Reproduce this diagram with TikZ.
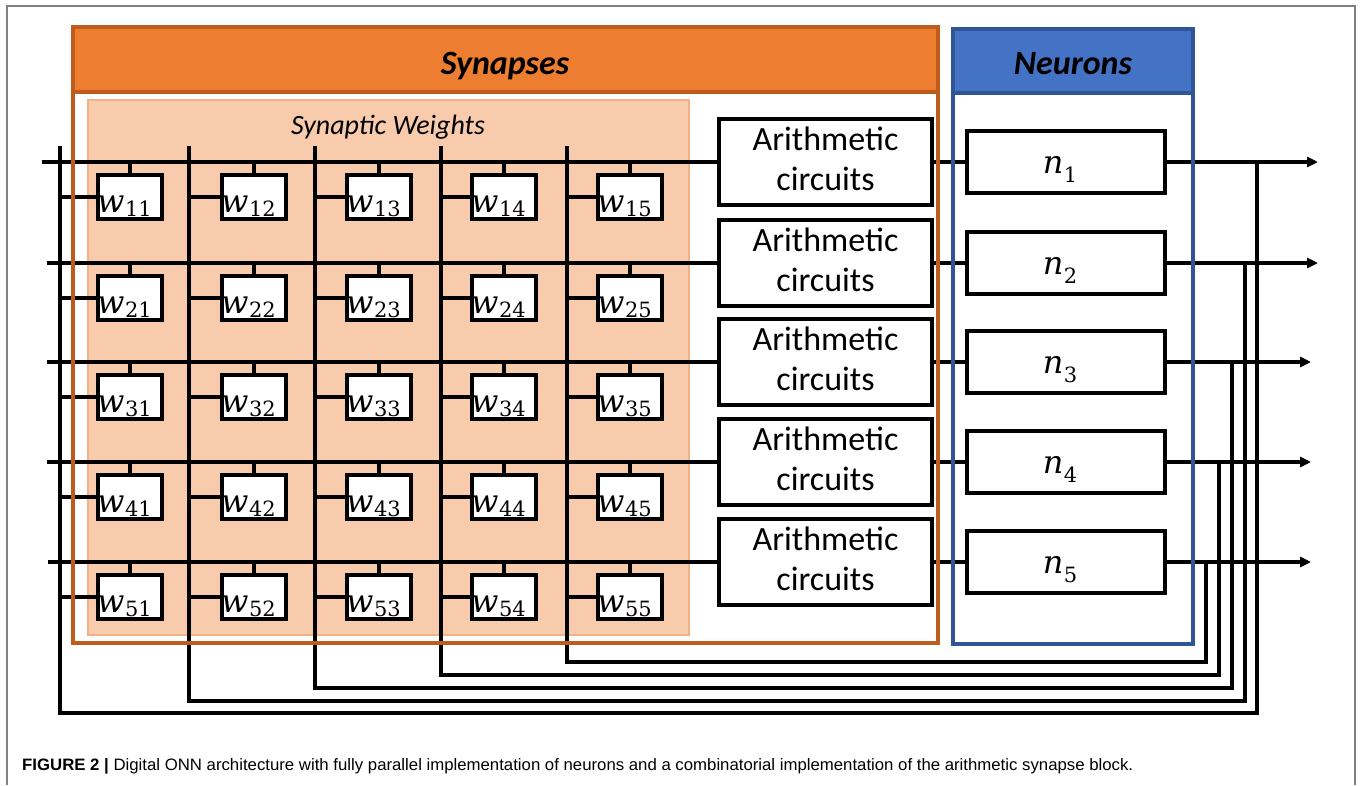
\documentclass[tikz,border=0pt]{standalone}
\usepackage{fontspec}
\setsansfont{Carlito}
\newfontfamily\capfont{Liberation Sans}
\newfontfamily\mserif{DejaVu Serif}
\usepackage{graphicx}
\usetikzlibrary{arrows.meta,calc}
\definecolor{synorange}{HTML}{ED7D31}
\definecolor{synborder}{HTML}{BF5B1C}
\definecolor{wfill}{HTML}{F8CBAD}
\definecolor{wborder}{HTML}{F4B183}
\definecolor{neublue}{HTML}{4472C4}
\definecolor{neuborder}{HTML}{2F5597}
\definecolor{framegray}{HTML}{808080}
\newcommand{\wsub}[2]{{\mserif\itshape\fontsize{32}{36}\selectfont #1}\kern0.5pt\raisebox{-4pt}{\mserif\fontsize{21}{24}\selectfont #2}}
\newcommand{\nsub}[2]{{\mserif\itshape\fontsize{32}{36}\selectfont #1}\kern0.5pt\raisebox{-9pt}{\mserif\fontsize{21}{24}\selectfont #2}}
\tikzset{
  wire/.style={line width=3.2pt, black},
  wbox/.style={draw, line width=3.2pt, fill=white, minimum width=64pt, minimum height=44pt, inner sep=0pt},
  abox/.style={draw, line width=3.2pt, fill=white, minimum width=213pt, minimum height=86pt, inner sep=0pt},
  nbox/.style={draw, line width=3.2pt, fill=white, minimum width=198pt, minimum height=62pt, inner sep=0pt},
  atext/.style={anchor=base, inner sep=0pt, font=\sffamily\fontsize{34}{40}\selectfont},
  mtext/.style={inner sep=0pt},
  htext/.style={anchor=base, inner sep=0pt, font=\sffamily\bfseries\itshape\fontsize{34}{40}\selectfont},
  outarrow/.style={wire, -{Triangle[length=11pt,width=10pt]}},
}
\begin{document}
\begin{tikzpicture}[x=1pt,y=-1pt]
\useasboundingbox (0,0) rectangle (1360,785);
% outer frame
\draw[framegray, line width=1.3pt] (7,785) -- (7,6) -- (1355,6) -- (1355,785);

% Synapses block background
\fill[white] (73,27) rectangle (938,643);
\filldraw[fill=synorange, draw=synborder, line width=4pt] (73,27) rectangle (938,92);
\node[htext] (synh) at (505,74) {Synapses};
% Synaptic weights region
\filldraw[fill=wfill, draw=wborder, line width=2pt] (88,100) rectangle (689,635);
\node[anchor=base, inner sep=0pt, font=\sffamily\itshape\fontsize{28}{32}\selectfont] (swt) at (388,134) {Synaptic Weights};

% Neurons block
\filldraw[fill=neublue, draw=neuborder, line width=3.5pt] (953,29) rectangle (1193,93);
\node[htext] (neuh) at (1073,74) {Neurons};

% coordinates
\foreach \r/\y/\xs/\xe in {1/162/42/1318, 2/263/47/1318, 3/362/47/1311, 4/462/47/1311, 5/562/48/1311} {
  \coordinate (rs\r) at (\xs,\y);
  \coordinate (oe\r) at (\xe,\y);
}
\foreach \c/\x/\xd/\yb in {1/60/1257/713, 2/189/1245/701, 3/315/1232/688, 4/441/1219/675, 5/567/1206/662} {
  \coordinate (ct\c) at (\x,146);
  \coordinate (cb\c) at (\x,\yb);
  \coordinate (db\c) at (\xd,\yb);
}

% arithmetic and neuron boxes
\foreach \r/\y in {1/162, 2/263, 3/362, 4/462, 5/562} {
  \node[abox] (a\r) at (825.5,\y) {};
  \node[nbox] (n\r) at (1066,\y) {};
  \node[atext] (at\r) at ($(a\r.north)+(0,33)$) {Arithmetic};
  \node[atext] (ac\r) at ($(a\r.north)+(0,73)$) {circuits};
  \node[mtext, anchor=base] (nl\r) at (1060,\y+11) {\nsub{n}{\r}};
  % row lines
  \draw[wire] (rs\r) -- (a\r.west);
  \draw[wire] (a\r.east) -- (n\r.west);
  \draw[outarrow] (n\r.east) -- (oe\r);
}

% feedback / column lines
\foreach \c in {1,...,5} {
  \coordinate (dt\c) at (db\c |- oe\c);
  \draw[wire] (ct\c) -- (cb\c) -- (db\c) -- (dt\c);
}

% weight boxes
\foreach \r/\y in {1/162, 2/263, 3/362, 4/462, 5/562} {
  \foreach \c/\xl in {1/98, 2/222, 3/347, 4/472, 5/598} {
    \node[wbox] (w\r\c) at (\xl+32,\y+35) {};
    \draw[wire] (w\r\c.north) -- (w\r\c.north |- rs\r);
    \draw[wire] (w\r\c.west) -- (w\r\c.west -| ct\c);
    \node[mtext, anchor=base west] (wl\r\c) at (\xl-1,\y+50) {\wsub{w}{\r\c}};
  }
}

% borders on top
\draw[synborder, line width=4pt] (73,27) rectangle (938,643);
\draw[synborder, line width=4pt] (73,92) -- (938,92);
\draw[neuborder, line width=3.5pt] (953,29) rectangle (1193,644);

% caption
\node[anchor=base west, inner sep=0pt] (cap) at (22,770) {\resizebox{1111pt}{\height}{\capfont\fontsize{16.5}{20}\selectfont\textbf{FIGURE 2 |} Digital ONN architecture with fully parallel implementation of neurons and a combinatorial implementation of the arithmetic synapse block.}};
\end{tikzpicture}
\end{document}
